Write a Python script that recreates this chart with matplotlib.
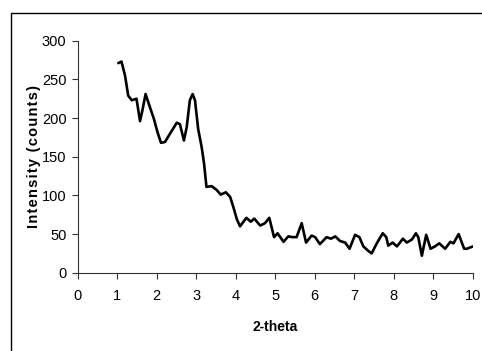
import matplotlib.pyplot as plt
from matplotlib.patches import Rectangle

# 2-theta and intensity values
two_theta = [1.03, 1.11, 1.20, 1.28, 1.37, 1.49, 1.58, 1.64, 1.72, 1.83, 1.93, 2.02,
             2.11, 2.21, 2.34, 2.51, 2.59, 2.69, 2.76, 2.84, 2.91, 2.97, 3.05, 3.14,
             3.20, 3.26, 3.39, 3.52, 3.62, 3.75, 3.86, 3.94, 4.03, 4.11, 4.27, 4.38,
             4.47, 4.62, 4.74, 4.85, 4.97, 5.06, 5.21, 5.33, 5.44, 5.54, 5.67, 5.78,
             5.92, 6.01, 6.13, 6.30, 6.41, 6.52, 6.64, 6.77, 6.88, 7.02, 7.13, 7.23,
             7.36, 7.44, 7.57, 7.72, 7.81, 7.86, 7.97, 8.08, 8.23, 8.33, 8.46, 8.56,
             8.62, 8.71, 8.82, 8.93, 9.04, 9.15, 9.30, 9.43, 9.51, 9.64, 9.78, 9.85,
             10.0]
intensity = [271, 273, 255, 229, 223, 225, 196, 210, 231, 214, 199, 182,
             168, 169, 180, 194, 192, 171, 188, 223, 231, 223, 186, 162,
             141, 111, 112, 107, 101, 104, 98, 85, 69, 60, 71, 66,
             70, 61, 64, 71, 46, 51, 40, 47, 46, 46, 64, 39,
             48, 46, 37, 46, 44, 47, 41, 39, 31, 49, 46, 34,
             28, 25, 38, 51, 46, 35, 39, 34, 44, 39, 43, 51,
             46, 22, 49, 31, 34, 38, 31, 40, 38, 50, 31, 31,
             34]

x_ticks = list(range(0, 11))
y_ticks = [0, 50, 100, 150, 200, 250, 300]

plt.rcParams['font.family'] = ['Liberation Sans', 'DejaVu Sans']

fig = plt.figure(figsize=(4.82, 3.51), dpi=100)
ax = fig.add_axes([0.161, 0.223, 0.820, 0.661])

ax.plot(two_theta, intensity, color='black', linewidth=1.9,
        solid_joinstyle='round', solid_capstyle='round')

ax.set_xlim(0, 10)
ax.set_ylim(0, 300)
ax.set_xticks(x_ticks)
ax.set_yticks(y_ticks)
ax.tick_params(direction='out', length=4, width=0.8, color='#333333',
               labelsize=10.5, pad=4)
ax.tick_params(axis='x', pad=8)

for s in ['top', 'right']:
    ax.spines[s].set_visible(False)
for s in ['left', 'bottom']:
    ax.spines[s].set_color('#333333')
    ax.spines[s].set_linewidth(0.8)

fig.text(0.5 * (0.161 + 0.981), 1 - 327 / 351, '2-theta', ha='center', va='center',
         fontsize=10, fontweight='bold')
ylab = '\u200a'.join('Intensity (counts)')
fig.text(34 / 482, 1 - 157 / 351, ylab, rotation=90,
         ha='center', va='center', fontsize=10.5, fontweight='bold')

# chart area border, cut off at right and bottom
fig.patches.append(Rectangle((11 / 482, -0.1), 1.2, 1 - 13 / 351 + 0.1,
                             transform=fig.transFigure, fill=False,
                             edgecolor='black', linewidth=1.0))

fig.savefig('out.png', dpi=100)
